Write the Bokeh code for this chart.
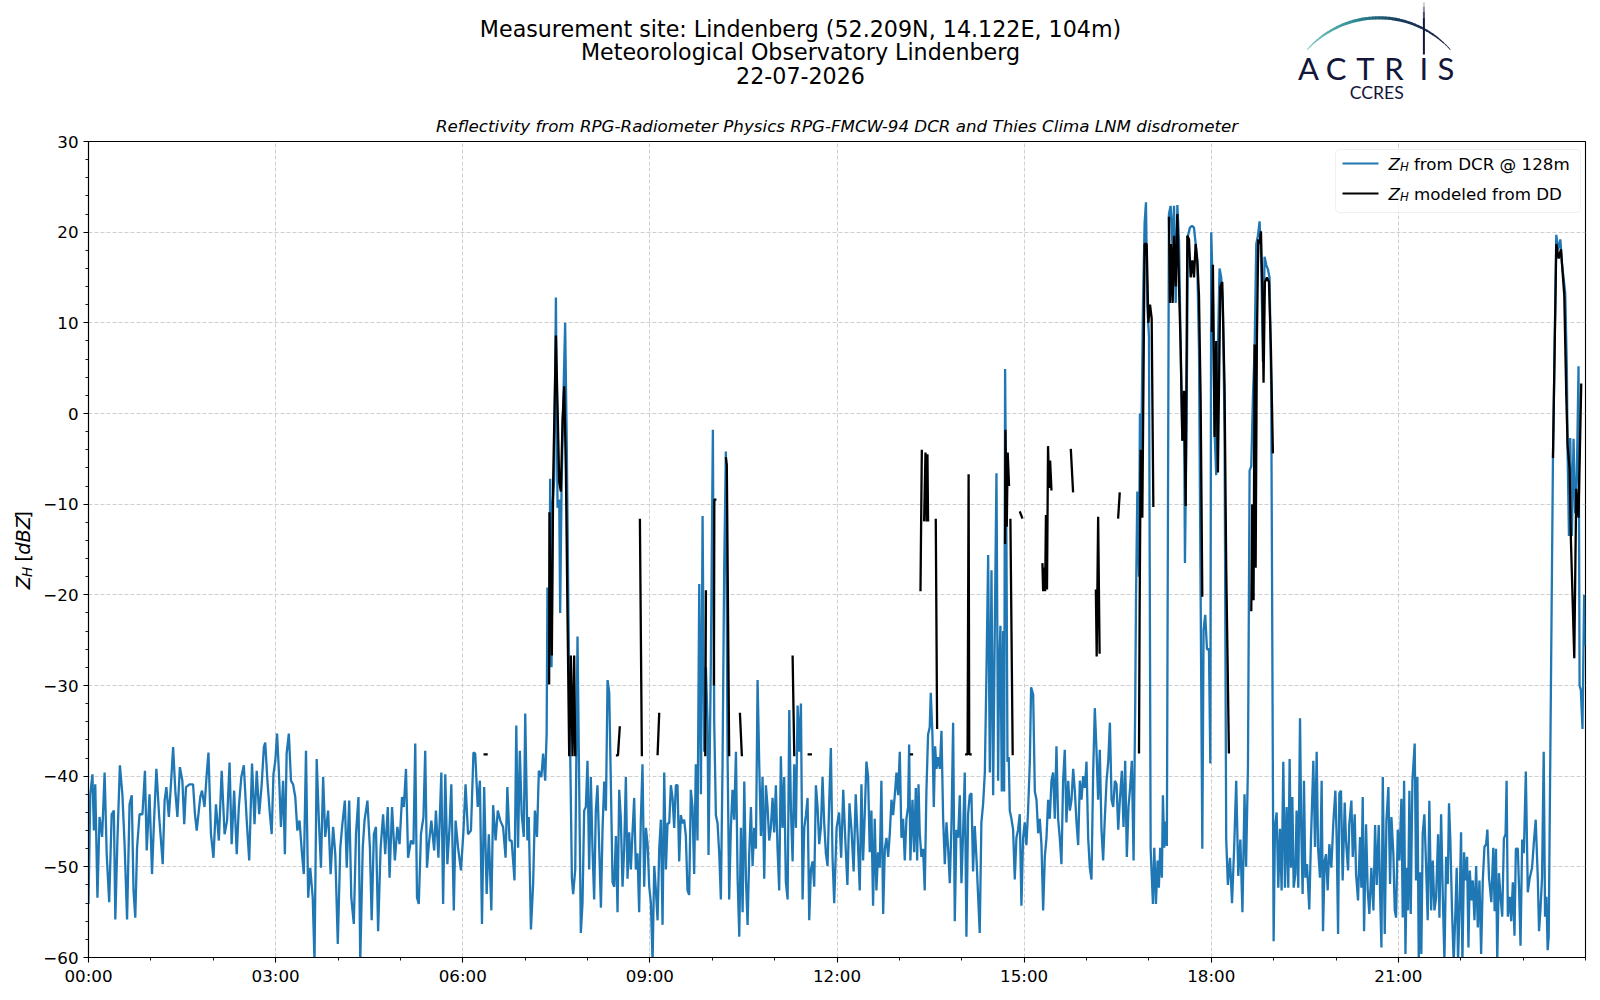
import math
import numpy as np
from bokeh.plotting import figure
from bokeh.layouts import column, row
from bokeh.models import (Range1d, FixedTicker, CustomJSTickFormatter, Label,
                          BoxAnnotation, PolyAnnotation)
from bokeh.embed import file_html
from bokeh.resources import INLINE

NAN = float("nan")

# ---------------- data (minutes after midnight, dBZ) ----------------
blue_min = [
    0.0, 1.7, 3.8, 5.2, 6.5, 8.6, 10.6, 13.1, 15.5, 17.5,
    19.9, 22.3, 24.4, 25.8, 27.8, 30.2, 32.6, 34.7, 37.1, 39.5,
    41.6, 43.3, 45.0, 46.7, 49.1, 51.9, 54.3, 56.0, 58.7, 61.1,
    62.9, 65.3, 68.0, 71.4, 73.2, 74.9, 77.3, 79.3, 81.4, 83.5,
    85.5, 87.9, 90.3, 92.1, 93.8, 97.2, 100.6, 102.4, 104.1, 107.5,
    109.2, 111.6, 113.7, 115.4, 117.8, 120.2, 122.6, 125.4, 128.1, 130.9,
    133.3, 135.7, 137.7, 140.1, 142.6, 144.6, 147.0, 149.4, 152.2, 154.6,
    157.3, 159.7, 161.8, 164.2, 166.6, 168.7, 170.0, 172.1, 174.5, 176.2,
    177.9, 179.7, 181.4, 183.1, 185.1, 187.2, 188.9, 190.6, 192.7, 194.8,
    196.8, 198.9, 200.9, 203.0, 205.4, 207.1, 209.2, 211.3, 213.3, 215.7,
    217.4, 219.5, 221.6, 223.6, 225.7, 227.7, 230.5, 232.9, 235.3, 237.4,
    239.8, 242.2, 244.2, 246.6, 248.4, 250.8, 252.8, 255.2, 257.3, 259.7,
    261.4, 263.8, 265.5, 268.3, 270.7, 272.4, 274.5, 276.5, 278.6, 281.0,
    283.4, 285.4, 287.9, 289.6, 292.0, 294.7, 297.1, 299.2, 301.6, 303.3,
    305.4, 307.4, 310.2, 312.6, 314.3, 316.0, 317.7, 319.8, 322.2, 323.9,
    325.6, 327.4, 329.8, 332.5, 334.2, 336.6, 339.4, 341.1, 343.2, 345.2,
    347.3, 349.0, 351.4, 353.1, 355.5, 358.3, 360.7, 362.7, 365.1, 367.9,
    370.3, 372.0, 374.4, 376.5, 378.5, 380.6, 383.0, 385.1, 387.5, 389.2,
    391.6, 393.7, 396.1, 398.8, 401.2, 402.9, 405.0, 407.0, 409.8, 411.5,
    413.2, 414.9, 416.7, 418.7, 420.1, 422.2, 423.5, 425.6, 427.7, 429.4,
    431.4, 433.2, 435.6, 437.3, 439.3, 440.7, 441.5, 443.1, 444.1, 445.4,
    446.4, 448.0, 449.6, 451.2, 452.8, 453.7, 455.0, 456.6, 458.5, 460.1,
    461.7, 463.4, 465.0, 466.2, 468.2, 470.4, 472.0, 473.6, 475.2, 476.8,
    478.4, 480.0, 481.6, 483.2, 484.8, 486.4, 488.0, 489.6, 491.3, 492.9,
    494.5, 496.1, 497.7, 499.3, 500.9, 502.5, 504.1, 505.7, 507.3, 508.9,
    510.5, 512.1, 513.7, 515.3, 516.9, 518.5, 520.1, 521.7, 523.3, 524.9,
    526.5, 528.1, 529.7, 531.3, 532.9, 534.5, 536.2, 537.8, 539.4, 541.0,
    542.6, 544.2, 545.8, 547.4, 549.0, 550.6, 552.2, 553.8, 555.4, 557.0,
    558.6, 560.2, 561.8, 563.4, 565.0, 566.6, 568.2, 569.8, 571.4, 573.0,
    574.6, 576.2, 577.8, 579.4, 581.0, 582.6, 584.2, 585.8, 587.5, 589.1,
    590.7, 592.3, 593.9, 595.5, 596.4, 598.7, 600.6, 601.9, 603.5, 605.1,
    606.7, 608.3, 609.9, 611.5, 613.1, 614.7, 616.3, 617.9, 619.5, 621.1,
    622.8, 624.4, 626.0, 627.6, 629.2, 630.8, 632.4, 634.0, 635.6, 637.2,
    638.8, 640.4, 642.0, 643.6, 645.2, 646.8, 648.4, 650.0, 651.6, 653.2,
    654.8, 656.4, 658.0, 659.6, 661.2, 662.8, 664.4, 666.0, 667.6, 669.2,
    670.8, 672.5, 674.1, 675.7, 677.3, 678.9, 680.5, 682.1, 683.7, 685.3,
    686.9, 688.5, 690.1, 691.7, 693.3, 694.9, 696.5, 698.1, 699.7, 701.3,
    702.9, 704.5, 706.1, 707.7, 709.3, 710.9, 712.5, 714.1, 715.7, 717.3,
    719.6, 722.0, 724.0, 726.0, 728.0, 730.0, 732.0, 734.0, 736.0, 738.0,
    740.0, 741.9, 743.5, 745.1, 746.7, 748.3, 749.9, 751.5, 753.1, 754.7,
    756.3, 757.9, 759.5, 761.1, 762.7, 764.4, 766.0, 767.6, 769.2, 770.8,
    772.4, 774.0, 775.6, 777.2, 778.8, 780.4, 782.0, 783.6, 785.2, 786.8,
    788.4, 789.4, 790.6, 792.6, 794.2, 795.8, 797.1, 798.4, 799.6, 801.2,
    802.8, 804.4, 806.0, 807.6, 809.2, 810.2, 811.8, 813.1, 814.4, 815.7,
    817.3, 818.9, 820.5, 822.1, 823.7, 825.3, 826.9, 828.5, 830.1, 831.7,
    833.3, 834.9, 836.5, 838.1, 839.7, 841.3, 842.9, 844.5, 846.1, 847.7,
    849.3, 850.9, 852.5, 854.1, 855.7, 857.3, 858.9, 860.6, 862.2, 863.8,
    865.4, 867.0, 868.6, 870.2, 871.8, 873.4, 875.0, 875.9, 877.2, 878.5,
    879.8, 880.8, 881.7, 883.0, 884.0, 885.2, 886.2, 887.8, 889.4, 891.0,
    892.6, 894.2, 895.8, 897.4, 899.0, 900.6, 902.2, 903.8, 905.5, 906.7,
    908.7, 910.3, 911.9, 913.5, 915.1, 916.7, 918.3, 919.9, 921.5, 923.1,
    924.7, 926.3, 927.9, 929.5, 931.1, 932.7, 934.3, 935.9, 937.5, 939.1,
    940.7, 942.4, 944.0, 945.6, 947.2, 948.8, 950.4, 952.0, 953.6, 955.2,
    956.8, 958.4, 960.0, 961.6, 963.2, 964.8, 966.4, 968.0, 969.6, 971.2,
    972.8, 974.4, 976.0, 977.6, 979.3, 980.9, 982.5, 984.1, 985.7, 987.3,
    988.9, 990.5, 992.1, 994.0, 995.6, 997.2, 998.8, 1000.4, 1002.0, 1003.6,
    1005.3, 1006.9, 1007.6, 1008.9, 1010.5, 1011.4, 1012.7, 1014.3, 1015.9, 1017.2,
    1018.5, 1020.1, 1021.7, 1023.9, 1025.2, 1026.8, 1028.4, 1029.6, 1030.9, 1032.5,
    1033.5, 1034.8, 1036.1, 1037.3, 1039.3, 1040.9, 1042.6, 1044.2, 1045.8, 1047.4,
    1049.0, 1050.6, 1052.2, 1053.8, 1054.7, 1056.3, 1057.6, 1059.5, 1061.5, 1063.4,
    1065.0, 1066.6, 1068.2, 1069.8, 1071.4, 1072.6, 1074.2, 1075.9, 1077.8, 1079.1,
    1080.0, 1081.6, 1083.2, 1084.8, 1086.4, 1088.0, 1089.6, 1091.2, 1092.8, 1094.4,
    1096.0, 1098.0, 1100.0, 1102.0, 1104.0, 1106.0, 1108.0, 1110.0, 1112.0, 1113.5,
    1115.3, 1116.9, 1118.5, 1120.1, 1121.7, 1123.3, 1124.9, 1126.5, 1128.1, 1129.7,
    1131.3, 1132.9, 1134.5, 1136.1, 1137.7, 1139.3, 1140.0, 1141.3, 1142.9, 1144.5,
    1146.1, 1147.7, 1149.3, 1150.9, 1152.5, 1154.1, 1155.4, 1156.7, 1158.0, 1159.3,
    1160.9, 1162.1, 1163.7, 1165.4, 1166.6, 1167.9, 1169.2, 1170.5, 1172.1, 1174.3,
    1175.9, 1178.2, 1179.8, 1181.4, 1182.7, 1184.6, 1186.2, 1187.5, 1189.1, 1190.4,
    1192.0, 1193.6, 1195.5, 1197.5, 1199.4, 1200.7, 1202.0, 1203.2, 1204.8, 1206.4,
    1208.4, 1209.6, 1211.6, 1212.8, 1214.8, 1216.1, 1218.0, 1219.3, 1221.2, 1223.1,
    1224.4, 1225.7, 1227.0, 1228.9, 1230.5, 1232.1, 1234.0, 1236.0, 1237.6, 1239.2,
    1241.1, 1242.4, 1243.7, 1245.0, 1246.9, 1248.5, 1250.4, 1252.0, 1253.3, 1255.2,
    1256.5, 1257.8, 1259.4, 1261.0, 1262.9, 1264.2, 1265.5, 1266.8, 1268.0, 1269.3,
    1270.6, 1271.9, 1273.5, 1275.7, 1277.0, 1278.3, 1279.6, 1280.9, 1282.1, 1283.4,
    1285.0, 1286.6, 1288.2, 1289.8, 1291.5, 1293.1, 1294.7, 1296.3, 1298.2, 1299.5,
    1301.1, 1302.7, 1304.3, 1305.9, 1307.5, 1308.7, 1310.0, 1311.6, 1313.2, 1314.9,
    1316.1, 1317.4, 1318.7, 1320.3, 1321.6, 1323.2, 1324.5, 1326.1, 1327.4, 1328.7,
    1330.3, 1331.6, 1333.2, 1334.8, 1336.4, 1338.0, 1339.6, 1341.2, 1342.8, 1344.4,
    1345.6, 1347.2, 1349.4, 1351.3, 1352.6, 1353.9, 1355.1, 1356.7, 1358.3, 1359.9,
    1361.5, 1363.1, 1364.1, 1365.3, 1367.3, 1368.5, 1370.1, 1371.7, 1373.0, 1374.9,
    1376.2, 1377.5, 1379.1, 1380.7, 1382.6, 1384.5, 1386.4, 1388.6, 1390.2, 1392.1,
    1394.1, 1395.3, 1396.6, 1398.2, 1399.8, 1401.1, 1402.4, 1403.6, 1404.6, 1408.7,
    1411.9, 1413.5, 1415.8, 1417.4, 1420.5, 1422.1, 1422.8, 1424.1, 1425.3, 1426.9,
    1428.5, 1430.1, 1431.7, 1433.3, 1434.3, 1435.5, 1437.1, 1438.7, 1439.6,
]
blue_dbz = [
    -54.1, -42.0, -39.8, -46.0, -40.9, -53.4, -44.5, -46.7, -39.6, -48.6,
    -53.9, -44.2, -43.8, -55.8, -47.1, -38.8, -42.0, -47.5, -55.8, -43.1,
    -42.1, -52.6, -55.6, -47.9, -44.2, -44.2, -39.4, -48.2, -42.0, -50.8,
    -45.3, -39.2, -44.5, -49.7, -42.7, -41.2, -44.5, -40.9, -36.8, -41.6,
    -44.5, -39.0, -40.5, -45.3, -41.2, -40.9, -40.9, -44.2, -46.0, -42.3,
    -41.6, -43.4, -39.8, -37.4, -46.4, -49.0, -43.1, -47.1, -39.4, -46.4,
    -44.9, -38.5, -47.5, -41.6, -48.6, -43.4, -40.1, -38.8, -44.9, -49.3,
    -38.6, -45.3, -39.4, -44.2, -40.9, -36.8, -36.3, -40.5, -44.2, -46.4,
    -39.8, -38.3, -35.3, -39.4, -45.6, -40.5, -48.6, -37.5, -35.3, -40.5,
    -40.9, -42.3, -46.0, -44.9, -48.6, -50.8, -37.2, -53.4, -50.1, -53.4,
    -60.5, -38.1, -44.9, -50.1, -40.1, -46.7, -43.8, -50.8, -45.6, -48.6,
    -58.5, -47.9, -45.3, -42.7, -50.1, -42.7, -53.4, -56.3, -46.4, -42.3,
    -60.5, -47.9, -44.9, -42.7, -47.9, -55.9, -46.4, -45.6, -57.1, -47.9,
    -44.2, -48.6, -43.4, -51.2, -43.4, -49.3, -45.6, -47.5, -42.3, -43.4,
    -39.2, -49.0, -47.1, -47.5, -36.4, -53.4, -54.1, -46.4, -44.5, -37.2,
    -50.1, -47.5, -44.9, -48.2, -43.8, -49.0, -39.6, -54.1, -39.8, -49.7,
    -45.6, -40.9, -54.8, -44.9, -47.9, -50.4, -46.0, -40.9, -46.4, -46.0,
    -37.4, -37.5, -43.4, -40.5, -56.3, -41.2, -53.0, -46.4, -54.8, -43.2,
    -47.1, -43.8, -44.9, -45.6, -49.0, -41.2, -47.1, -47.1, -51.5, -34.4,
    -47.9, -37.2, -44.2, -46.7, -33.1, -47.1, -44.5, -56.9, -51.9, -43.8,
    -46.7, -39.4, -40.1, -37.5, -40.5, -35.3, -19.2, -28.0, -7.2, -28.0,
    -10.0, -7.2, 12.8, -10.4, -9.5, -22.0, -8.6, 0.7, 10.0, -3.9,
    -22.5, -37.8, -51.3, -53.0, -50.3, -24.6, -41.0, -57.3, -54.0, -43.8,
    -43.4, -38.3, -50.3, -40.1, -48.0, -53.6, -43.8, -41.0, -48.0, -54.5,
    -45.7, -40.6, -43.8, -29.4, -30.8, -41.0, -51.7, -52.2, -46.6, -55.0,
    -41.5, -44.8, -52.2, -48.0, -40.1, -51.3, -46.2, -50.3, -46.2, -42.4,
    -50.3, -48.5, -55.0, -44.8, -38.7, -52.2, -45.7, -47.5, -52.2, -54.0,
    -60.5, -49.9, -52.6, -55.9, -48.0, -44.8, -56.4, -39.6, -50.3, -45.2,
    -45.2, -41.0, -42.4, -45.7, -41.0, -41.0, -49.4, -44.3, -45.2, -44.8,
    -46.6, -52.6, -53.1, -41.5, -43.4, -50.8, -38.7, -47.1, -18.8, -42.0,
    -11.3, -37.3, -28.0, -34.1, -48.7, -27.1, -1.8, -34.1, -44.3, -45.2,
    -48.5, -53.6, -38.7, -16.9, -4.2, -37.3, -53.6, -45.7, -41.5, -44.8,
    -37.3, -51.3, -57.7, -45.7, -55.0, -40.6, -51.3, -56.4, -48.5, -43.4,
    -49.9, -45.7, -48.0, -29.4, -38.7, -46.6, -40.1, -51.3, -41.0, -43.4,
    -47.1, -45.7, -42.4, -46.2, -41.0, -48.0, -52.6, -37.8, -45.7, -40.1,
    -51.7, -53.6, -32.7, -43.8, -49.4, -38.7, -45.7, -32.2, -37.3, -32.0,
    -53.6, -45.7, -44.3, -42.4, -55.9, -50.3, -49.4, -52.2, -41.0, -43.4,
    -47.5, -45.7, -40.1, -45.2, -48.5, -49.9, -42.9, -36.9, -49.0, -54.0,
    -45.7, -44.0, -49.0, -41.5, -47.0, -52.0, -43.0, -46.0, -50.5, -42.0,
    -47.0, -52.6, -40.9, -49.3, -44.2, -38.4, -40.0, -48.4, -43.8, -54.3,
    -44.7, -52.6, -48.4, -50.1, -40.5, -55.2, -48.0, -46.8, -48.9, -46.3,
    -42.6, -44.3, -42.1, -39.6, -42.1, -37.3, -46.8, -44.7, -49.3, -44.7,
    -43.4, -36.5, -49.3, -42.6, -48.4, -41.3, -49.3, -40.9, -46.3, -48.9,
    -48.0, -52.6, -41.7, -35.4, -34.6, -30.8, -35.4, -43.4, -36.7, -39.2,
    -37.9, -39.2, -35.0, -44.7, -49.7, -45.1, -48.0, -51.8, -45.5, -34.1,
    -56.0, -45.9, -46.8, -42.1, -51.8, -46.3, -39.6, -57.7, -44.2, -42.1,
    -41.9, -50.5, -45.5, -48.9, -53.1, -57.3, -45.1, -43.0, -39.6, -28.3,
    -15.6, -39.6, -17.3, -42.1, -23.6, -6.6, -40.5, -28.7, -23.4, -41.7,
    -24.0, -41.7, 4.9, -14.4, -38.4, -37.9, -43.8, -44.7, -45.9, -51.4,
    -46.8, -45.9, -44.2, -54.3, -46.8, -45.1, -47.6, -43.8, -38.4, -30.2,
    -31.0, -41.7, -42.6, -46.3, -44.7, -47.6, -54.8, -48.9, -46.8, -42.6,
    -44.7, -40.5, -39.6, -44.7, -36.7, -44.7, -46.8, -49.7, -40.5, -37.1,
    -45.1, -40.5, -43.8, -42.6, -39.2, -41.7, -45.1, -47.6, -40.5, -42.6,
    -40.0, -41.3, -38.4, -46.8, -50.1, -51.4, -39.6, -32.5, -37.1, -42.6,
    -37.1, -45.9, -49.3, -44.7, -40.5, -38.4, -34.1, -42.6, -43.4, -40.5,
    -40.9, -45.9, -42.6, -39.4, -45.6, -38.3, -48.9, -43.4, -41.2, -38.3,
    -49.3, -31.6, -20.6, -8.6, -18.0, 0.0, -4.0, 11.8, 21.0, 23.3,
    11.8, 8.5, -48.0, -54.1, -47.9, -54.1, -49.3, -52.3, -47.9, -51.2,
    -42.1, -47.9, -45.0, -47.7, 22.0, 22.9, 18.7, 22.9, 12.2, 23.0,
    19.0, 7.1, -3.0, 1.5, -16.5, -0.3, 19.6, 20.5, 20.7, 20.5,
    18.7, 16.4, 7.1, -20.0, -48.0, -23.9, -22.2, -26.0, -26.0, -38.6,
    20.0, 13.1, -2.0, -6.8, 7.1, 16.0, 15.0, 11.8, -2.0, -47.0,
    -52.0, -49.0, -54.0, -48.0, -40.5, -51.0, -47.0, -55.0, -42.0, -50.0,
    -39.0, -6.3, -5.8, 1.8, 7.1, 18.7, 19.6, 21.2, 16.4, 5.7,
    17.3, 16.4, 15.9, 15.0, 2.5, -40.5, -58.2, -45.6, -44.0, -52.3,
    -45.8, -52.6, -38.4, -52.3, -43.4, -52.3, -38.1, -50.1, -42.3, -52.3,
    -50.8, -43.8, -52.3, -33.6, -46.0, -53.0, -40.5, -51.2, -49.7, -54.7,
    -47.1, -38.3, -47.8, -37.3, -47.8, -51.2, -40.5, -57.1, -49.3, -48.6,
    -52.6, -47.5, -50.1, -45.0, -41.6, -47.1, -57.4, -41.9, -41.6, -51.5,
    -42.9, -47.1, -50.4, -45.3, -42.7, -48.9, -44.2, -50.8, -53.7, -46.7,
    -52.3, -42.3, -57.1, -45.3, -52.6, -55.2, -50.1, -54.8, -45.4, -52.0,
    -45.4, -53.0, -58.9, -40.1, -57.4, -44.9, -41.2, -51.9, -44.5, -48.6,
    -54.8, -55.6, -45.9, -49.3, -42.5, -55.6, -40.5, -59.6, -50.1, -54.8,
    -41.6, -55.2, -40.5, -36.4, -51.5, -40.1, -60.5, -50.6, -59.6, -46.4,
    -44.2, -49.7, -55.9, -42.7, -54.8, -49.3, -54.8, -53.4, -46.4, -55.6,
    -44.2, -53.0, -60.5, -48.9, -51.9, -43.0, -47.1, -54.8, -60.5, -54.8,
    -50.1, -60.5, -55.2, -46.2, -60.5, -48.4, -51.5, -48.9, -58.9, -50.4,
    -53.7, -51.5, -55.9, -49.9, -56.7, -51.5, -59.6, -51.5, -47.8, -47.5,
    -45.9, -51.2, -53.9, -47.9, -54.9, -48.0, -60.5, -50.7, -53.3, -55.5,
    -46.9, -46.4, -40.5, -55.5, -53.3, -56.0, -51.7, -57.6, -48.0, -48.0,
    -52.8, -58.7, -47.0, -48.5, -39.5, -52.8, -51.2, -50.1, -47.5, -44.8,
    -51.2, -57.1, -54.9, -51.2, -37.3, -55.5, -53.3, -59.2, -57.7, -4.9,
    19.7, 18.1, 19.2, 16.5, 13.3, 4.7, -4.4, -13.5, -2.7, -13.5,
    -2.8, -11.0, -6.7, 5.2, -30.0, -30.5, -34.8, -20.0, -25.6,
]

# disdrometer-modelled reflectivity, NaN marks gaps between segments
black_min = [
    380.0, 384.0, NAN,
    443.1, 443.4, 444.7, 445.7, 447.0, 449.6, 451.2, 452.8, 454.4, 456.0,
    457.6, 459.2, 460.8, 462.4, 464.0, 465.6, 467.2, 468.2, NAN,
    507.3, 509.3, 511.1, NAN,
    530.4, 532.3, NAN,
    547.4, 549.0, NAN,
    593.3, 593.9, NAN,
    601.6, 602.0, 604.0, NAN,
    613.1, 614.0, 616.3, NAN,
    626.6, 628.5, NAN,
    677.3, 678.9, NAN,
    691.7, 695.9, NAN,
    790.0, 793.2, NAN,
    800.3, 801.6, NAN,
    803.8, 805.1, 806.3, 807.0, 807.6, NAN,
    815.0, 816.3, NAN,
    843.2, 845.6, 846.6, 847.2, 849.6, NAN,
    881.7, 882.0, 883.3, 884.2, 885.5, NAN,
    886.8, 889.0, NAN,
    895.8, 898.4, NAN,
    917.6, 918.3, 919.2, 920.2, 921.0, 922.0, 923.0, 924.0, 925.0, 926.3, NAN,
    944.9, 947.1, NAN,
    969.0, 969.8, 971.2, 972.6, NAN,
    990.4, 992.0, NAN,
    1010.5, 1011.1, 1012.1, 1013.7, 1015.9, 1017.9, 1019.5, 1021.1, 1022.7, 1024.3, NAN,
    1039.3, 1040.3, 1041.6, 1042.9, 1044.2, 1045.8, 1047.4, 1049.0, 1050.6, 1052.2,
    1053.8, 1055.4, 1057.0, 1058.6, 1060.2, 1061.8, 1063.4, 1065.0, 1066.6, 1068.2,
    1069.8, 1071.4, NAN,
    1080.6, 1081.6, 1083.2, 1084.8, 1086.4, 1088.7, 1090.6, 1092.8, 1094.4, 1097.0, NAN,
    1118.5, 1119.4, 1120.7, 1121.7, 1122.7, 1123.9, 1125.2, 1126.5, 1127.8, 1129.1,
    1130.3, 1131.6, 1133.6, 1135.5, 1137.4, 1139.3, NAN,
    1408.7, 1411.9, 1414.2, 1416.4, 1419.6, 1421.5, 1422.8, 1424.7, 1426.0, 1427.2,
    1429.2, 1431.1, 1433.3, 1435.9,
]
black_dbz = [
    -37.6, -37.6, NAN,
    -29.9, -10.9, -21.1, -26.7, -7.2, 8.6, 0.7, -7.6, -8.6, -0.7,
    3.0, -6.2, -22.5, -37.8, -26.7, -37.8, -26.7, -37.8, NAN,
    -37.7, -37.7, -34.5, NAN,
    -11.6, -37.8, NAN,
    -37.7, -33.0, NAN,
    -37.8, -19.5, NAN,
    -30.0, -9.5, -9.5, NAN,
    -4.8, -5.7, -37.8, NAN,
    -33.0, -37.8, NAN,
    -26.7, -37.8, NAN,
    -37.6, -37.6, NAN,
    -37.6, -37.6, NAN,
    -19.6, -4.0, NAN,
    -11.9, -4.3, -11.9, -4.5, -11.9, NAN,
    -11.6, -34.8, NAN,
    -37.6, -37.6, -6.7, -37.6, -37.6, NAN,
    -14.4, -1.8, -12.5, -4.3, -8.0, NAN,
    -11.6, -37.7, NAN,
    -10.8, -11.6, NAN,
    -16.5, -19.6, -17.0, -19.6, -11.2, -19.4, -3.6, -8.2, -5.2, -8.5, NAN,
    -3.9, -8.7, NAN,
    -19.4, -26.8, -11.4, -26.5, NAN,
    -11.6, -8.7, NAN,
    -37.5, -22.0, -4.0, -11.5, 18.7, 18.7, 10.0, 12.0, 10.5, -10.3, NAN,
    21.7, 12.2, 18.7, 12.2, 19.6, 14.0, 22.0, 14.0, 7.1, -3.0,
    2.5, -10.2, 19.6, 19.2, 15.0, 16.9, 15.0, 18.7, 16.9, 13.0,
    1.5, -20.2, NAN,
    9.0, 16.4, -2.6, 8.0, -6.5, 14.0, 14.5, 3.0, -17.0, -37.5, NAN,
    -21.8, -10.0, -20.6, 7.6, -17.0, 8.0, 19.2, 18.7, 20.1, 14.0,
    3.4, 14.5, 15.0, 14.5, 7.1, -4.4, NAN,
    -4.9, 18.7, 17.1, 18.1, 13.0, 2.0, -3.5, -6.1, -14.1, -18.9,
    -27.0, -8.3, -11.5, 3.3,
]

x_ticks = [0, 3, 6, 9, 12, 15, 18, 21]
x_minor = list(range(0, 25))
y_ticks = [-60, -50, -40, -30, -20, -10, 0, 10, 20, 30]
y_minor = list(range(-60, 31, 2))

title_lines = [
    "Measurement site: Lindenberg (52.209N, 14.122E, 104m)",
    "Meteorological Observatory Lindenberg",
    "22-07-2026",
]
subtitle = "Reflectivity from RPG-Radiometer Physics RPG-FMCW-94 DCR and Thies Clima LNM disdrometer"
legend_rest = ["from DCR @ 128m", "modeled from DD"]
series_colors = ["#1f77b4", "#000000"]

# ---------------- layout (page pixel coordinates) ----------------
W_TOT, H_TOT = 1592, 992
HEAD_H = 108                 # header strip: titles and logo
LAB_W = 40                   # strip left of the main figure: y-axis label
FRAME_L, FRAME_R, FRAME_T, FRAME_B = 88, 1585, 141, 957
MAIN_W, MAIN_H = W_TOT - LAB_W, H_TOT - HEAD_H


def blank(width, height, xr, yr):
    f = figure(width=width, height=height, x_range=xr, y_range=yr,
               output_backend="svg", toolbar_location=None,
               x_axis_location=None, y_axis_location=None,
               min_border=0, min_border_left=0, min_border_right=0,
               min_border_top=0, min_border_bottom=0)
    f.outline_line_color = None
    f.xgrid.visible = False
    f.ygrid.visible = False
    f.background_fill_color = "white"
    f.border_fill_color = "white"
    return f


head = blank(W_TOT, HEAD_H, Range1d(0, W_TOT), Range1d(HEAD_H, 0))
lab = blank(LAB_W, MAIN_H, Range1d(0, LAB_W), Range1d(H_TOT, HEAD_H))

p = figure(width=MAIN_W, height=MAIN_H, x_range=Range1d(0, 24), y_range=Range1d(-60, 30),
           output_backend="svg", toolbar_location=None,
           min_border_left=FRAME_L - LAB_W, min_border_right=W_TOT - FRAME_R,
           min_border_top=FRAME_T - HEAD_H, min_border_bottom=H_TOT - FRAME_B)
p.background_fill_color = "white"
p.border_fill_color = "white"
p.outline_line_color = "black"
p.outline_line_width = 1.1
p.outline_line_alpha = 1.0

# subtitle as the figure's own title, centred over the plot area
p.title.text = subtitle
p.title.align = "center"
p.title.text_font = "DejaVu Sans"
p.title.text_font_style = "italic"
p.title.text_font_size = "16.7px"
p.title.text_color = "black"
p.title.standoff = 11
p.title.offset = 0

for ax in (p.xaxis[0], p.yaxis[0]):
    ax.axis_line_color = "black"
    ax.axis_line_width = 1.1
    ax.major_tick_line_color = "black"
    ax.minor_tick_line_color = "black"
    ax.major_tick_line_width = 1.1
    ax.minor_tick_line_width = 0.9
    ax.major_tick_out = 5
    ax.major_tick_in = 0
    ax.minor_tick_out = 3
    ax.minor_tick_in = 0
    ax.major_label_text_font = "DejaVu Sans"
    ax.major_label_text_font_size = "16.7px"
    ax.major_label_text_color = "black"
p.xaxis.major_label_standoff = 3
p.yaxis.major_label_standoff = 5

p.xaxis.ticker = FixedTicker(ticks=x_ticks, minor_ticks=x_minor)
p.xaxis.formatter = CustomJSTickFormatter(
    code="const h = Math.round(tick); return (h < 10 ? '0' : '') + h + ':00';")
p.yaxis.ticker = FixedTicker(ticks=y_ticks, minor_ticks=y_minor)
p.yaxis.formatter = CustomJSTickFormatter(
    code="return tick < 0 ? '\u2212' + Math.abs(tick) : String(tick);")

p.xgrid.ticker = FixedTicker(ticks=x_ticks)
p.ygrid.ticker = FixedTicker(ticks=y_ticks)
for g in (p.xgrid[0], p.ygrid[0]):
    g.grid_line_color = "#cfcfcf"
    g.grid_line_width = 1
    g.grid_line_dash = "4 2"

# ---------------- series ----------------
bx = np.array(blue_min, dtype=float) / 60.0
by = np.array(blue_dbz, dtype=float)
kx = np.array(black_min, dtype=float) / 60.0
ky = np.array(black_dbz, dtype=float)
p.line(bx, by, line_color=series_colors[0], line_width=2.3)
p.line(kx, ky, line_color=series_colors[1], line_width=2.3)


# ---------------- text helpers ----------------
def txt_data(fig, px, py, s, size, style="normal", align="left", baseline="middle",
             angle=0.0, color="black", font="DejaVu Sans"):
    fig.add_layout(Label(x=px, y=py, text=s, text_font=font, text_font_size=f"{size}px",
                         text_font_style=style, text_align=align,
                         text_baseline=baseline, angle=angle, text_color=color))


def sx(px):
    return px - FRAME_L


def sy(py):
    return FRAME_B - py


def txt_main(px, py, s, size, style="normal", align="left", baseline="middle",
             color="black", font="DejaVu Sans"):
    p.add_layout(Label(x=sx(px), y=sy(py), x_units="screen", y_units="screen",
                       text=s, text_font=font, text_font_size=f"{size}px",
                       text_font_style=style, text_align=align,
                       text_baseline=baseline, text_color=color))


# titles
title_y = [28.6, 51.5, 74.5]
for line, yy in zip(title_lines, title_y):
    txt_data(head, 800, yy, line, 22.2, align="center")

# y-axis label: Z_H [dBZ] (rotated)
yl_x = 22.5
base = 593.0
fs = 19.4
rot = math.pi / 2
txt_data(lab, yl_x, base, "Z", fs, style="italic", angle=rot)
txt_data(lab, yl_x + 4, base - 13.3, "H", fs * 0.7, style="italic", angle=rot)
txt_data(lab, yl_x, base - 29.7, "[", fs, angle=rot)
txt_data(lab, yl_x, base - 37.3, "dBZ", fs, style="italic", angle=rot)
txt_data(lab, yl_x, base - 76.2, "]", fs, angle=rot)

# legend
p.add_layout(BoxAnnotation(left=sx(1335), right=sx(1580), top=sy(149), bottom=sy(212),
                           left_units="screen", right_units="screen",
                           top_units="screen", bottom_units="screen",
                           fill_color="white", fill_alpha=0.8,
                           line_color="#cccccc", line_width=1, border_radius=4))
for i, (rest, col) in enumerate(zip(legend_rest, series_colors)):
    yy = 163 + 30 * i
    p.add_layout(BoxAnnotation(left=sx(1342), right=sx(1378), top=sy(yy - 1.1),
                               bottom=sy(yy + 1.1),
                               left_units="screen", right_units="screen",
                               top_units="screen", bottom_units="screen",
                               fill_color=col, fill_alpha=1.0, line_alpha=0))
    txt_main(1388, yy, "Z", 16.7, style="italic")
    txt_main(1399.4, yy + 3.5, "H", 11.7, style="italic")
    txt_main(1413.5, yy, rest, 16.7)

# ---------------- ACTRIS logo (header strip) ----------------
navy = "#12163a"
letters = ["A", "C", "T", "R", "I", "S"]
letter_x = [1308, 1335.5, 1365, 1393.5, 1423.3, 1445.5]
for ch, lx in zip(letters, letter_x):
    txt_data(head, lx, 67.0, ch, 31, align="center", baseline="middle",
             color=navy, font="Lato")
txt_data(head, 1376.3, 92.0, "CCRES", 17.6, align="center", baseline="middle",
         color=navy, font="Lato")


def lerp_color(u):
    stops = [(0.0, (126, 204, 196)), (0.35, (44, 140, 150)),
             (0.62, (26, 62, 96)), (1.0, (18, 22, 58))]
    for (u0, c0), (u1, c1) in zip(stops[:-1], stops[1:]):
        if u <= u1:
            f = (u - u0) / (u1 - u0)
            c = [int(round(a + (b - a) * f)) for a, b in zip(c0, c1)]
            return "#%02x%02x%02x" % tuple(c)
    return "#%02x%02x%02x" % stops[-1][1]


cx, cy, R = 1378.3, 113.6, 96.3
a0, a1 = math.radians(-48), math.radians(48)
nseg = 48
for i in range(nseg):
    u0, u1 = i / nseg, (i + 1) / nseg
    t0 = a0 + (a1 - a0) * u0
    t1 = a0 + (a1 - a0) * min(1.0, u1 + 0.004)
    um = 0.5 * (u0 + u1)
    th = 0.8 + 2.4 * math.sin(math.pi * min(1.0, um * 1.05)) ** 0.8
    pts_o = [(cx + (R + th / 2) * math.sin(t), cy - (R + th / 2) * math.cos(t)) for t in (t0, t1)]
    pts_i = [(cx + (R - th / 2) * math.sin(t), cy - (R - th / 2) * math.cos(t)) for t in (t1, t0)]
    pts = pts_o + pts_i
    head.add_layout(PolyAnnotation(xs=[a for a, b in pts], ys=[b for a, b in pts],
                                   fill_color=lerp_color(um), fill_alpha=1.0, line_alpha=0))

# vertical stroke of the logo (fades toward the top)
vx0, vx1 = 1422.4, 1424.4
vsteps = [(1.7, 6, "#d0d1dc"), (6, 11, "#8e90a8"), (11, 17, "#4a4d70"), (17, 54, navy)]
for ya, yb, col in vsteps:
    head.add_layout(PolyAnnotation(xs=[vx0, vx1, vx1, vx0], ys=[ya, ya, yb, yb],
                                   fill_color=col, fill_alpha=1.0, line_alpha=0))

layout = column(head, row(lab, p, spacing=0), spacing=0)
open("out.html", "w").write(file_html(layout, INLINE))
